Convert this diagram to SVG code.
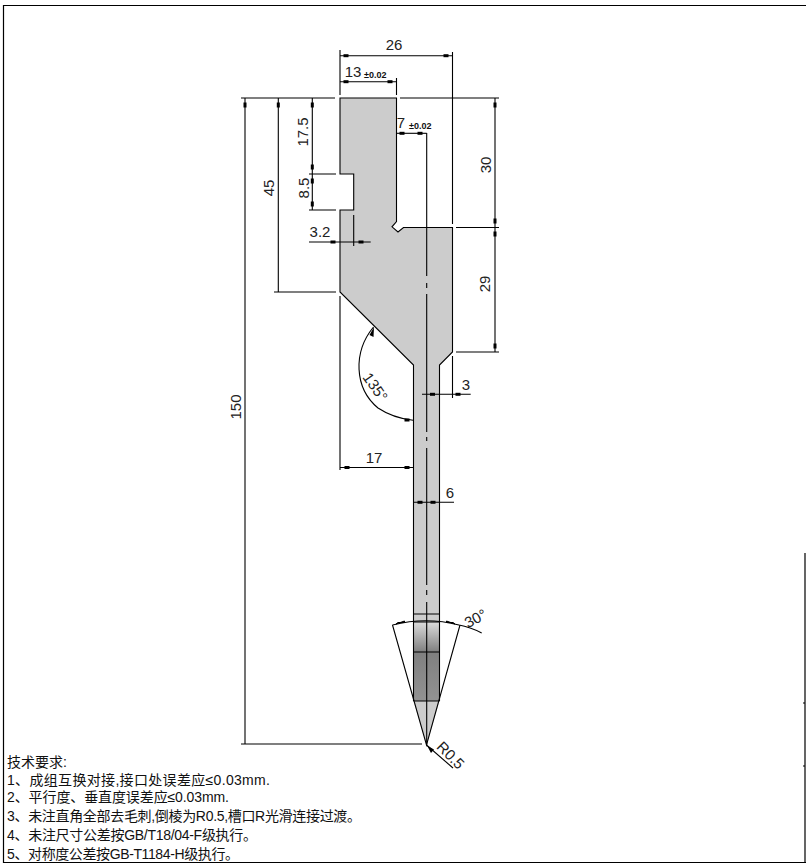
<svg xmlns="http://www.w3.org/2000/svg" width="806" height="866" viewBox="0 0 806 866">
<style>
.l{fill:none;stroke:#000;stroke-width:1.1}
.s{fill:#ccc;stroke:none}
.d{font:15px "Liberation Sans",Arial,sans-serif;fill:#222;text-anchor:middle}
.t{font:bold 9px "Liberation Sans",Arial,sans-serif;fill:#111}
.n{font:14px "Liberation Sans","Noto Sans CJK SC",sans-serif;fill:#111}
</style>
<defs>
<path id="h" d="M-2.500-1.500h5v3h-5z" fill="#000"/>
<path id="v" d="M-1.500-2.500h3v5h-3z" fill="#000"/>
<linearGradient id="g" x1="0" y1="0" x2="0" y2="1"><stop offset="0" stop-color="#dcdcdc"/><stop offset="1" stop-color="#7f7f7f"/></linearGradient>
<linearGradient id="g2" x1="0" y1="0" x2="0" y2="1"><stop offset="0" stop-color="#808080"/><stop offset="1" stop-color="#929292"/></linearGradient>
</defs>
<rect width="806" height="866" fill="#fff"/>
<g id="frame" fill="none" stroke="#000" stroke-width="1.2">
<path d="M806 5.500H3.500V862.500H806"/>
<path d="M805 553V862M803 703H805M803 766H805"/>
</g>
<g id="part">
<path class="s" d="M340 98H396.500V221.500L392 226.800L398 232L403.500 227.500H452.500V352L439.500 365V701L426.500 745L413.500 701V365L340 292V210H353.700V174H340Z"/>
<path d="M413.500 622h26v30h-26z" fill="url(#g)"/>
<path d="M413.500 652h26v49h-26z" fill="url(#g2)"/>
<path class="l" d="M413.500 701V365L340 292V210H353.700V174H340V98H396.500V221.500L392 226.800L398 232L403.500 227.500H452.500V352L439.500 365V701"/>
<path class="l" d="M413.500 614H439.500M413.500 622H439.500M413.500 652H439.500M413.500 701H439.500"/>
<path class="l" d="M426.700 133V276M426.700 283V288M426.700 294V432M426.700 437V441M426.700 448V585M426.700 590V595M426.700 602V745"/>
</g>
<g id="connectors">
<path class="l" d="M241 98H335M400 98H499"/>
<path class="l" d="M245 98V744M241 744H422"/>
<path class="l" d="M278.300 98V292M274 292H336"/>
<path class="l" d="M312.300 98V210M309 174H336M309 210H336"/>
<path class="l" d="M340 50V95M396.500 78V95M452.500 52V224"/>
<path class="l" d="M340 55.700H452.500M340 81.700H396.500"/>
<path class="l" d="M396.500 133.300H426.700"/>
<path class="l" d="M495 98V352M456 227.500H499M456 352H499"/>
<path class="l" d="M309 242H370.700M353.700 215V246"/>
<path class="l" d="M340 296V470M340 467.500H413.500"/>
<path class="l" d="M422 394.300H470.700M452.500 356V398"/>
<path class="l" d="M414 502.300H454"/>
<path class="l" d="M373.500 327C353 352 354 388 378 408C390 416 402 419 413 420.300"/>
<path class="l" d="M392.500 625C414 619.500 438 619.500 459 625C468 626.500 475 629.500 481.700 633"/>
<path class="l" d="M392.500 625L426.500 745L460 625"/>
<path class="l" d="M426.500 745L453 768"/>
<use href="#h" x="346" y="55.700"/><use href="#h" x="446" y="55.700"/>
<use href="#h" x="346" y="81.700"/><use href="#h" x="390" y="81.700"/>
<use href="#h" x="402" y="133.300"/><use href="#h" x="420" y="133.300"/>
<use href="#v" x="245" y="105"/><use href="#v" x="278.300" y="105"/><use href="#v" x="312.300" y="105"/>
<use href="#v" x="312.300" y="167"/><use href="#v" x="312.300" y="181"/><use href="#v" x="312.300" y="204"/>
<use href="#v" x="495" y="105"/><use href="#v" x="495" y="221"/><use href="#v" x="495" y="234"/><use href="#v" x="495" y="346"/>
<use href="#h" x="333" y="242"/><use href="#h" x="361" y="242"/>
<use href="#h" x="347" y="467.500"/><use href="#h" x="407" y="467.500"/>
<use href="#h" x="432.500" y="394.300"/><use href="#h" x="458" y="394.300"/>
<use href="#h" x="420" y="502.300"/><use href="#h" x="433" y="502.300"/>
<use href="#h" x="407" y="420"/>
<path d="M374 327L369.500 335L373.500 337Z" fill="#000"/>
<path d="M398 622.500L404.500 622.500V621L396 624Z" fill="#000" stroke="#000"/>
<path d="M453 622.500L446.500 622.500V621L455 624Z" fill="#000" stroke="#000"/>
<path d="M427 745.500L434 749.500L431 753Z" fill="#000"/>
</g>
<g id="labels">
<text class="d" x="394" y="50">26</text>
<text class="d" x="353" y="76.500">13</text>
<text class="t" x="364" y="78">±0.02</text>
<text class="d" x="401" y="128">7</text>
<text class="t" x="409" y="129">±0.02</text>
<text class="d" transform="translate(308 132) rotate(-90)">17.5</text>
<text class="d" transform="translate(308.500 188) rotate(-90)">8.5</text>
<text class="d" transform="translate(274 188) rotate(-90)">45</text>
<text class="d" transform="translate(240.500 407) rotate(-90)">150</text>
<text class="d" transform="translate(490.500 165) rotate(-90)">30</text>
<text class="d" transform="translate(490 284) rotate(-90)">29</text>
<text class="d" x="320" y="237">3.2</text>
<text class="d" x="374" y="463">17</text>
<text class="d" x="466" y="390">3</text>
<text class="d" x="450" y="498">6</text>
<text class="d" transform="translate(371 390) rotate(55)">135°</text>
<text class="d" transform="translate(478 623) rotate(-28)">30°</text>
<text class="d" transform="translate(447 759) rotate(45)">R0.5</text>
</g>
<g id="notes">
<text class="n" x="7" y="767">技术要求:</text>
<text class="n" x="7" y="785" textLength="263">1、成组互换对接,接口处误差应≤0.03mm.</text>
<text class="n" x="7" y="802" textLength="222">2、平行度、垂直度误差应≤0.03mm.</text>
<text class="n" x="7" y="821" textLength="354">3、未注直角全部去毛刺,倒棱为R0.5,槽口R光滑连接过渡。</text>
<text class="n" x="7" y="840" textLength="250">4、未注尺寸公差按GB/T18/04-F级执行。</text>
<text class="n" x="7" y="859" textLength="232">5、对称度公差按GB-T1184-H级执行。</text>
</g>
</svg>
